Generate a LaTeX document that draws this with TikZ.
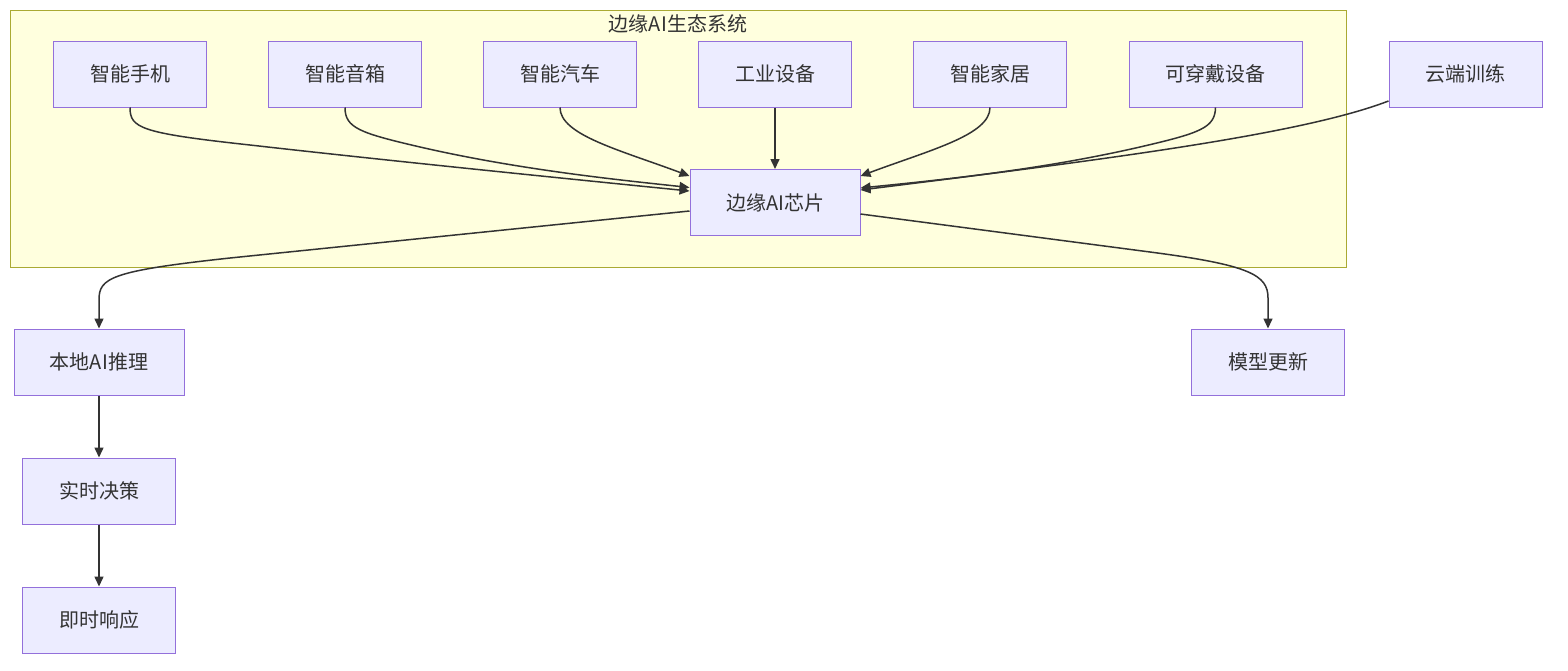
\documentclass[tikz,border=0pt]{standalone}
\usepackage{fontspec}
\newfontfamily\cjk{Noto Sans CJK SC}
\usetikzlibrary{arrows.meta}
\definecolor{nodefill}{HTML}{ECECFF}
\definecolor{nodeborder}{HTML}{9370DB}
\definecolor{clusterfill}{HTML}{FFFFDE}
\definecolor{clusterborder}{HTML}{AAAA33}
\definecolor{txt}{HTML}{333333}
\definecolor{edge}{HTML}{333333}
\begin{document}
\begin{tikzpicture}[x=0.5pt,y=-0.5pt,
  box/.style={draw=nodeborder, fill=nodefill, line width=0.5pt, minimum height=33pt, minimum width=76.5pt, inner sep=0pt, font=\cjk\fontsize{10pt}{12pt}\selectfont, text=txt},
  conn/.style={draw=edge, line width=0.75pt, -{Triangle[length=5pt,width=4.5pt]}}]
\useasboundingbox (0,0) rectangle (1568,670);
\fill[white] (0,0) rectangle (1568,670);
% cluster
\draw[fill=clusterfill, draw=clusterborder, line width=0.5pt] (10,10) rectangle (1346,267);
\node[font=\cjk\fontsize{10pt}{12pt}\selectfont, text=txt] (title) at (678,24) {边缘AI生态系统};
% nodes
\node[box] (m1) at (130,74) {智能手机};
\node[box] (m2) at (345,74) {智能音箱};
\node[box] (m3) at (560,74) {智能汽车};
\node[box] (m4) at (775,74) {工业设备};
\node[box] (m5) at (990,74) {智能家居};
\node[box, minimum width=86.5pt] (m6) at (1215.5,74) {可穿戴设备};
\node[box] (cloud) at (1465.5,74) {云端训练};
\node[box, minimum width=85pt] (chip) at (775,202.5) {边缘AI芯片};
\node[box, minimum width=85pt] (local) at (99,362) {本地AI推理};
\node[box] (update) at (1268,362) {模型更新};
\node[box] (dec) at (99,491) {实时决策};
\node[box] (resp) at (99,620) {即时响应};
% edges into chip
\draw[conn] (m1.south) .. controls (130,128) and (140,133) .. (250,145) .. controls (400,162) and (600,182) .. ([yshift=5.75pt]chip.west);
\draw[conn] (m2.south) .. controls (345,128) and (360,133) .. (420,147) .. controls (520,170) and (620,180) .. ([yshift=7.5pt]chip.west);
\draw[conn] (m3.south) .. controls (560,135) and (620,150) .. ([yshift=13.25pt]chip.west);
\draw[conn] (m4.south) -- (chip.north);
\draw[conn] (m5.south) .. controls (990,135) and (930,150) .. ([yshift=13.25pt]chip.east);
\draw[conn] (m6.south) .. controls (1215,128) and (1200,133) .. (1140,147) .. controls (1040,170) and (940,180) .. ([yshift=7.25pt]chip.east);
\draw[conn] ([yshift=-13.5pt]cloud.west) .. controls (1300,135) and (1100,160) .. ([yshift=6.25pt]chip.east);
% edges out of chip
\draw[conn] ([yshift=-4.25pt]chip.west) -- (230,258) .. controls (110,271) and (99,278) .. (99,300) -- (local.north);
\draw[conn] ([yshift=-5.75pt]chip.east) -- (1150,252) .. controls (1250,265) and (1268,275) .. (1268,298) -- (update.north);
\draw[conn] (local.south) -- (dec.north);
\draw[conn] (dec.south) -- (resp.north);
\end{tikzpicture}
\end{document}
